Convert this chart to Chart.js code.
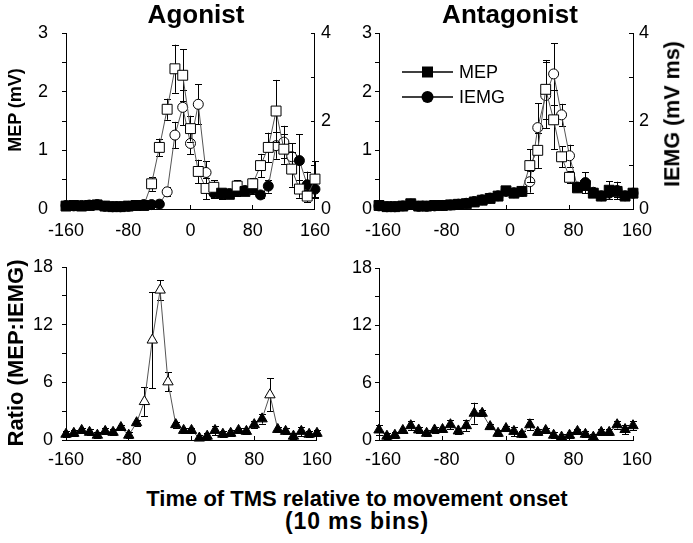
<!DOCTYPE html>
<html>
<head>
<meta charset="utf-8">
<script src="https://cdn.jsdelivr.net/npm/chart.js@4.4.0/dist/chart.umd.min.js"></script>
<style>
  html, body { margin: 0; padding: 0; background: #fff; }
  body { width: 693px; height: 543px; position: relative; overflow: hidden; font-family: "Liberation Sans", Arial, sans-serif; }
  canvas { position: absolute; }
  .t { position: absolute; font-weight: bold; white-space: nowrap; line-height: 1; color: #000; }
  .ctr { transform: translateX(-50%); }
  .rot { transform: translate(-50%, -50%) rotate(-90deg); }
</style>
</head>
<body>
<canvas id="tl" width="345" height="245" style="left:0;top:0"></canvas>
<canvas id="tr" width="348" height="245" style="left:345px;top:0"></canvas>
<canvas id="bl" width="345" height="235" style="left:0;top:245px"></canvas>
<canvas id="br" width="348" height="235" style="left:345px;top:245px"></canvas>

<div class="t ctr" style="left:196px;top:1px;font-size:26px">Agonist</div>
<div class="t ctr" style="left:510px;top:1px;font-size:26px">Antagonist</div>
<div class="t rot" style="left:15px;top:110px;font-size:18px">MEP (mV)</div>
<div class="t rot" style="left:16px;top:353px;font-size:22px">Ratio (MEP:IEMG)</div>
<div class="t rot" style="left:673px;top:114px;font-size:21.5px">IEMG (mV ms)</div>
<div class="t ctr" style="left:357px;top:488px;font-size:22px">Time of TMS relative to movement onset</div>
<div class="t ctr" style="left:357px;top:510px;font-size:23px;letter-spacing:0.8px">(10 ms bins)</div>

<script>
// --- Data (10 ms bins, time relative to movement onset) ---
const times = [-160, -150, -140, -130, -120, -110, -100, -90, -80, -70, -60, -50, -40, -30, -20, -10, 0,
               10, 20, 30, 40, 50, 60, 70, 80, 90, 100, 110, 120, 130, 140, 150, 160];

// Agonist
const agoMep = [0.05, 0.06, 0.05, 0.06, 0.07, 0.05, 0.04, 0.04, 0.05, 0.06, 0.06, 0.43, 1.05, 1.70, 2.39, 2.28, 1.37,
                0.64, 0.35, 0.37, 0.27, 0.25, 0.39, 0.30, 0.43, 0.74, 1.05, 1.67, 1.02, 0.68, 0.34, 0.22, 0.51];
const agoMepErr = [0.02, 0.02, 0.02, 0.02, 0.02, 0.02, 0.02, 0.02, 0.02, 0.02, 0.02, 0.12, 0.15, 0.18, 0.41, 0.44, 0.22,
                   0.20, 0.18, 0.12, 0.05, 0.05, 0.10, 0.06, 0.10, 0.20, 0.25, 0.53, 0.25, 0.30, 0.15, 0.10, 0.30];
const agoMepOpen = [-50, -40, -30, -20, -10, 0, 10, 20, 30, 60, 80, 90, 100, 110, 120, 130, 140, 150, 160];

const agoIemg = [0.08, 0.07, 0.08, 0.09, 0.10, 0.06, 0.05, 0.05, 0.06, 0.08, 0.10, 0.10, 0.11, 0.39, 1.68, 2.31, 1.49,
                 2.38, 0.83, 0.36, 0.33, 0.35, 0.40, 0.42, 0.45, 0.32, 0.52, 1.44, 1.52, 1.19, 1.10, 0.55, 0.45];
const agoIemgErr = [0.03, 0.03, 0.03, 0.03, 0.03, 0.03, 0.03, 0.03, 0.03, 0.03, 0.03, 0.03, 0.03, 0.10, 0.30, 0.40, 0.25,
                    0.45, 0.25, 0.10, 0.10, 0.10, 0.10, 0.10, 0.10, 0.08, 0.15, 0.30, 0.37, 0.30, 0.60, 0.30, 0.20];
const agoIemgOpen = [-30, -20, -10, 0, 10, 20, 110, 120, 130];

const agoRatio = [0.6, 0.7, 1.0, 0.8, 0.5, 0.9, 0.8, 1.3, 0.5, 1.8, 4.0, 10.4, 15.6, 6.05, 1.6, 1.0, 1.0,
                  0.2, 0.4, 1.0, 0.6, 0.7, 1.0, 0.9, 1.6, 2.2, 4.7, 1.1, 0.9, 0.4, 0.9, 0.6, 0.7];
const agoRatioErr = [0.3, 0.3, 0.3, 0.3, 0.3, 0.3, 0.3, 0.3, 0.3, 0.3, 1.5, 5.0, 1.0, 1.0, 0.3, 0.3, 0.3,
                     0.3, 0.3, 0.5, 0.3, 0.3, 0.3, 0.3, 0.4, 0.5, 1.7, 0.3, 0.3, 0.3, 0.5, 0.3, 0.3];
const agoRatioOpen = [-60, -50, -40, -30, 100];

// Antagonist
const antMep = [0.06, 0.04, 0.04, 0.05, 0.09, 0.05, 0.05, 0.06, 0.06, 0.07, 0.08, 0.09, 0.12, 0.15, 0.18, 0.22, 0.31,
                0.27, 0.30, 0.74, 1.00, 2.04, 1.52, 0.89, 0.54, 0.36, 0.40, 0.27, 0.22, 0.32, 0.30, 0.22, 0.27];
const antMepErr = [0.02, 0.02, 0.02, 0.02, 0.02, 0.02, 0.02, 0.02, 0.02, 0.02, 0.02, 0.02, 0.02, 0.02, 0.03, 0.03, 0.05,
                   0.04, 0.04, 0.28, 0.30, 0.50, 0.50, 0.18, 0.10, 0.05, 0.05, 0.04, 0.04, 0.15, 0.10, 0.04, 0.04];
const antMepOpen = [30, 40, 50, 60, 70, 80];

const antIemg = [0.07, 0.05, 0.05, 0.07, 0.11, 0.06, 0.06, 0.07, 0.08, 0.09, 0.11, 0.13, 0.17, 0.21, 0.25, 0.30, 0.40,
                 0.37, 0.40, 0.62, 1.85, 2.58, 3.07, 2.14, 1.21, 0.50, 0.60, 0.38, 0.30, 0.36, 0.42, 0.30, 0.36];
const antIemgErr = [0.03, 0.03, 0.03, 0.03, 0.03, 0.03, 0.03, 0.03, 0.03, 0.03, 0.03, 0.03, 0.03, 0.03, 0.03, 0.03, 0.05,
                    0.05, 0.05, 0.25, 0.55, 0.75, 0.70, 0.25, 0.25, 0.05, 0.24, 0.05, 0.05, 0.05, 0.20, 0.05, 0.05];
const antIemgOpen = [30, 40, 50, 60, 70, 80];

const antRatio = [1.05, 0.4, 0.5, 1.0, 1.5, 1.05, 0.7, 1.05, 1.1, 1.6, 0.95, 1.5, 2.8, 2.8, 1.4, 0.7, 1.2,
                  0.9, 0.6, 1.6, 0.8, 1.0, 0.5, 0.3, 0.5, 0.9, 0.6, 0.3, 0.8, 0.8, 1.6, 1.1, 1.5];
const antRatioErr = [0.5, 0.3, 0.3, 0.3, 0.5, 0.3, 0.3, 0.3, 0.3, 0.5, 0.3, 0.6, 1.1, 0.3, 0.3, 0.3, 0.3,
                     0.5, 0.3, 0.6, 0.3, 0.3, 0.3, 0.3, 0.3, 0.3, 0.3, 0.3, 0.3, 0.3, 0.4, 0.5, 0.5];
const antRatioOpen = [];

Chart.defaults.font.family = '"Liberation Sans", Arial, sans-serif';
Chart.defaults.font.size = 18;
Chart.defaults.color = '#000';

// error bars drawn under each dataset's markers
const errorBars = {
    id: 'errorBars',
    beforeDatasetDraw(chart, args) {
        const ds = chart.data.datasets[args.index];
        if (!ds.errors) return;
        const yScale = chart.scales[args.meta.yAxisID];
        const ctx = chart.ctx;
        ctx.save();
        ctx.strokeStyle = '#000';
        ctx.lineWidth = 1;
        args.meta.data.forEach((pt, i) => {
            const e = ds.errors[i];
            if (!e) return;
            const v = ds.data[i].y;
            const y1 = yScale.getPixelForValue(v + e);
            const y2 = yScale.getPixelForValue(Math.max(v - e, yScale.min));
            const x = Math.round(pt.x) + 0.5;
            ctx.beginPath();
            ctx.moveTo(x, y1); ctx.lineTo(x, y2);
            ctx.moveTo(x - 3.5, Math.round(y1) + 0.5); ctx.lineTo(x + 3.5, Math.round(y1) + 0.5);
            ctx.moveTo(x - 3.5, Math.round(y2) + 0.5); ctx.lineTo(x + 3.5, Math.round(y2) + 0.5);
            ctx.stroke();
        });
        ctx.restore();
    }
};

// small legend inside the antagonist panel
const insetLegend = {
    id: 'insetLegend',
    afterDraw(chart, args, opts) {
        if (!opts.show) return;
        const ctx = chart.ctx;
        ctx.save();
        chart.data.datasets.forEach((ds, i) => {
            const y = opts.y + i * opts.gap;
            ctx.strokeStyle = '#000';
            ctx.lineWidth = 1.5;
            ctx.beginPath();
            ctx.moveTo(opts.x1, y); ctx.lineTo(opts.x2, y);
            ctx.stroke();
            const cx = (opts.x1 + opts.x2) / 2;
            ctx.fillStyle = '#000';
            ctx.beginPath();
            if (ds.pointStyle === 'rect') ctx.rect(cx - 5.5, y - 5.5, 11, 11);
            else ctx.arc(cx, y, 6, 0, Math.PI * 2);
            ctx.fill();
            ctx.font = '18px "Liberation Sans", Arial, sans-serif';
            ctx.textBaseline = 'middle';
            ctx.fillText(ds.label, opts.x2 + 6, y + 1);
        });
        ctx.restore();
    }
};

function series(label, vals, errs, openTimes, style, radius, axis) {
    return {
        label: label,
        data: vals.map((v, i) => ({ x: times[i], y: v })),
        errors: errs,
        yAxisID: axis,
        borderColor: '#555',
        borderWidth: 1,
        pointStyle: style,
        pointRadius: radius,
        pointHoverRadius: radius,
        pointBackgroundColor: times.map(t => openTimes.includes(t) ? '#fff' : '#000'),
        pointBorderColor: '#000',
        pointBorderWidth: 1,
        tension: 0,
        clip: false
    };
}

function xAxis(height, pad, offset) {
    return {
        type: 'linear', position: 'bottom', min: -160, max: 160,
        ticks: { stepSize: 80, padding: pad, labelOffset: offset, autoSkip: false, maxRotation: 0 },
        grid: { drawOnChartArea: false, tickLength: -4, color: '#000' },
        border: { color: '#000', width: 1 },
        afterFit(s) { s.height = height; }
    };
}

function yAxis(pos, max, step, every, width, pad) {
    return {
        type: 'linear', position: pos, min: 0, max: max,
        ticks: {
            stepSize: step, padding: pad, autoSkip: false,
            callback: v => (Math.abs(v / every - Math.round(v / every)) < 1e-6 ? v : '')
        },
        grid: { drawOnChartArea: false, tickLength: pos === 'left' ? 4 : -4, color: '#000' },
        border: { color: '#000', width: 1 },
        afterFit(s) { s.width = width; }
    };
}

function makePanel(id, datasets, scales, padding, legend) {
    return new Chart(document.getElementById(id), {
        type: 'line',
        data: { datasets: datasets },
        options: {
            responsive: false,
            animation: false,
            events: [],
            layout: { padding: padding, autoPadding: false },
            scales: scales,
            plugins: {
                legend: { display: false },
                tooltip: { enabled: false },
                insetLegend: legend || { show: false }
            }
        },
        plugins: [errorBars, insetLegend]
    });
}

makePanel('tl', [
    series('MEP', agoMep, agoMepErr, agoMepOpen, 'rect', 7, 'y'),
    series('IEMG', agoIemg, agoIemgErr, agoIemgOpen, 'circle', 5, 'y2')
], {
    x: xAxis(36, 15, 0),
    y: yAxis('left', 3, 0.5, 1, 66, 14),
    y2: yAxis('right', 4, 1, 2, 22, 10)
}, { top: 33, left: 0, right: 0, bottom: 0 });

makePanel('tr', [
    series('MEP', antMep, antMepErr, antMepOpen, 'rect', 7, 'y'),
    series('IEMG', antIemg, antIemgErr, antIemgOpen, 'circle', 5, 'y2')
], {
    x: xAxis(36, 15, 4),
    y: yAxis('left', 3, 0.5, 1, 34, 3),
    y2: yAxis('right', 4, 1, 2, 60, 10)
}, { top: 33, left: 0, right: 0, bottom: 0 },
   { show: true, x1: 57, x2: 108, y: 72, gap: 25 });

makePanel('bl', [
    series('Ratio', agoRatio, agoRatioErr, agoRatioOpen, 'triangle', 6, 'y')
], {
    x: xAxis(40, 13, 0),
    y: yAxis('left', 18, 3, 6, 66, 9)
}, { top: 22, left: 0, right: 22, bottom: 0 });

makePanel('br', [
    series('Ratio', antRatio, antRatioErr, antRatioOpen, 'triangle', 6, 'y')
], {
    x: xAxis(40, 13, 4),
    y: yAxis('left', 18, 3, 6, 34, 3)
}, { top: 23, left: 0, right: 60, bottom: 0 });
</script>
</body>
</html>
